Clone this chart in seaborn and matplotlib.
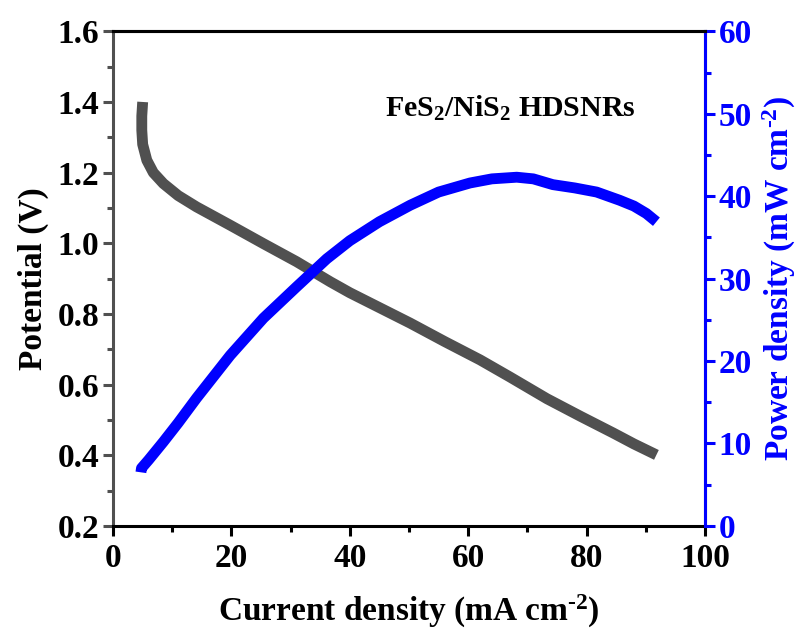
import matplotlib
matplotlib.use("Agg")
import matplotlib.pyplot as plt
import seaborn as sns
import pandas as pd
from matplotlib.ticker import MultipleLocator

# Polarization curve (current density mA cm^-2, potential V)
current_v = [5.0, 4.85, 4.85, 5.0, 5.7, 6.8, 8.5, 11.0, 14.1, 19.8, 25.4, 31.0, 36.7,
             40.0, 45.1, 50.2, 56.0, 62.0, 67.0, 73.3, 79.0, 84.5, 88.0, 91.8]
potential = [1.40, 1.36, 1.32, 1.28, 1.235, 1.20, 1.169, 1.135, 1.103, 1.051, 0.999,
             0.948, 0.891, 0.860, 0.817, 0.774, 0.722, 0.670, 0.622, 0.560, 0.510,
             0.463, 0.432, 0.401]

# Power density curve (current density mA cm^-2, power density mW cm^-2)
current_p = [4.7, 4.8, 6.0, 8.5, 11.0, 14.1, 19.8, 25.4, 31.0, 36.1, 40.0, 45.0, 50.2,
             55.0, 60.3, 64.0, 68.2, 71.0, 74.3, 78.0, 81.7, 85.6, 88.0, 90.1, 91.8]
power = [6.5, 7.0, 8.0, 10.2, 12.5, 15.5, 20.7, 25.2, 29.0, 32.4, 34.6, 36.9, 38.9,
         40.5, 41.6, 42.1, 42.3, 42.1, 41.4, 41.0, 40.5, 39.5, 38.8, 37.9, 36.9]

label_text = "FeS$_2$/NiS$_2$ HDSNRs"

sns.set_style("ticks")
plt.rcParams["font.family"] = ["Liberation Serif", "DejaVu Serif"]
plt.rcParams["font.weight"] = "bold"
plt.rcParams["mathtext.fontset"] = "custom"
plt.rcParams["mathtext.rm"] = "Liberation Serif:bold"
plt.rcParams["mathtext.bf"] = "Liberation Serif:bold"
plt.rcParams["mathtext.it"] = "Liberation Serif:bold"
plt.rcParams["text.color"] = "black"
plt.rcParams["axes.labelcolor"] = "black"
plt.rcParams["xtick.color"] = "black"
plt.rcParams["ytick.color"] = "black"
plt.rcParams["axes.labelweight"] = "bold"

grey = "#505050"
blue = "#0000FF"

fig = plt.figure(figsize=(8.02, 6.39), dpi=100)
ax = fig.add_axes([0.141, 0.177, 0.738, 0.774])
ax2 = ax.twinx()

dv = pd.DataFrame({"I": current_v, "V": potential})
dp = pd.DataFrame({"I": current_p, "P": power})

sns.lineplot(data=dv, x="I", y="V", ax=ax, color=grey, lw=7.8, sort=False,
             estimator=None, solid_capstyle="butt")
sns.lineplot(data=dp, x="I", y="P", ax=ax2, color=blue, lw=7.8, sort=False,
             estimator=None, solid_capstyle="butt")

ax.set_xlim(0, 100)
ax.set_ylim(0.2, 1.6)
ax2.set_ylim(0, 60)

ax.xaxis.set_major_locator(MultipleLocator(20))
ax.xaxis.set_minor_locator(MultipleLocator(10))
ax.yaxis.set_major_locator(MultipleLocator(0.2))
ax.yaxis.set_minor_locator(MultipleLocator(0.1))
ax2.yaxis.set_major_locator(MultipleLocator(10))
ax2.yaxis.set_minor_locator(MultipleLocator(5))

yt = [0.2, 0.4, 0.6, 0.8, 1.0, 1.2, 1.4, 1.6]
ax.set_yticks(yt)
ax.set_yticklabels([f"{v:.1f}" for v in yt])
ax.set_ylim(0.2, 1.6)

fs = 24
ax.set_xlabel(r"Current density (mA cm$^{\text{-2}}$)", fontsize=fs, fontweight="bold",
              labelpad=14)
ax.set_ylabel("Potential (V)", fontsize=fs, fontweight="bold", labelpad=6)
ax2.set_ylabel(r"Power density (mW cm$^{\text{-2}}$)", fontsize=fs, fontweight="bold",
               color=blue, labelpad=6)

for a in (ax, ax2):
    for sp in a.spines.values():
        sp.set_linewidth(2.2)
ax.spines["left"].set_color(grey)
ax.spines["bottom"].set_color("black")
ax.spines["top"].set_color("black")
ax2.spines["right"].set_color(blue)
ax2.spines["left"].set_visible(False)
ax2.spines["top"].set_color("black")
ax2.spines["bottom"].set_visible(False)

ax.tick_params(axis="x", which="major", direction="out", length=7, width=2.2,
               labelsize=fs, color="black", labelcolor="black", pad=5)
ax.tick_params(axis="x", which="minor", direction="out", length=4, width=2.2, color="black")
ax.tick_params(axis="y", which="major", direction="out", length=7, width=2.2,
               labelsize=fs, color=grey, labelcolor="black", pad=3)
ax.tick_params(axis="y", which="minor", direction="out", length=4, width=2.2, color=grey)
ax2.tick_params(axis="y", which="major", direction="out", length=7, width=2.2,
                labelsize=fs, color=blue, labelcolor=blue, pad=3)
ax2.tick_params(axis="y", which="minor", direction="out", length=4, width=2.2, color=blue)

for lab in ax.get_xticklabels() + ax.get_yticklabels() + ax2.get_yticklabels():
    lab.set_fontweight("bold")

ax.text(46.0, 1.382, label_text, fontsize=21.5, fontweight="bold", va="center", ha="left",
        color="black")

fig.savefig("out.png", dpi=100)
